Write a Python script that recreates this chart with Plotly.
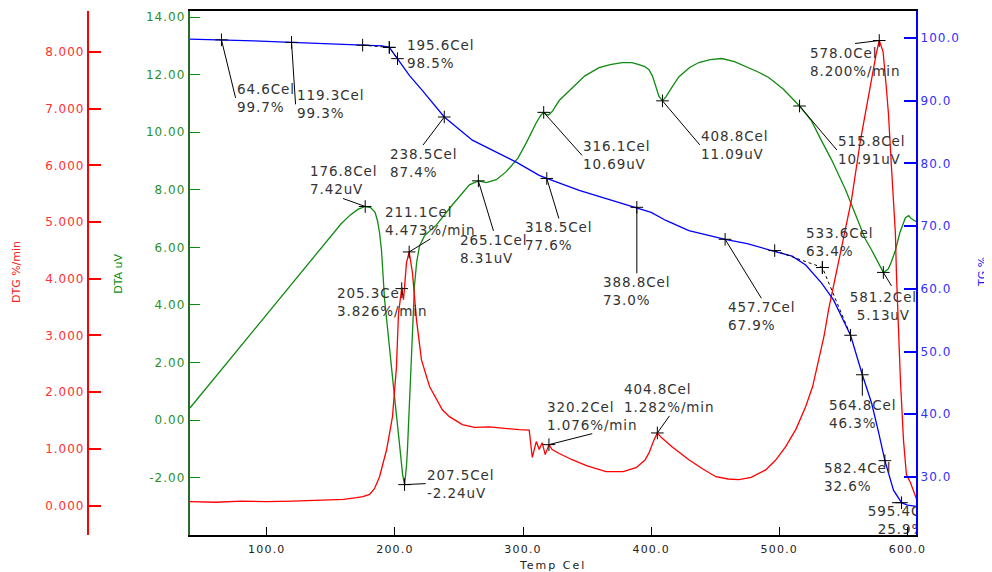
import plotly.graph_objects as go

# ---------------- data ----------------
tg_T = [40, 64.6, 90, 119.3, 140, 160, 175, 190, 195.6, 202,
        211.4, 221.5, 238.5, 260.4, 280, 294.7, 312.6, 318.5, 343.8, 365,
        388.8, 400, 411.5, 429.4, 457.7, 475, 494, 510, 520.6, 533,
        542.4, 555.6, 564.8, 572, 577.4, 582.4, 589.1, 593, 595.4, 600,
        607]
tg_V = [99.8, 99.7, 99.55, 99.3, 99.15, 99.0, 98.9, 98.75, 98.5, 96.7,
        94.0, 91.6, 87.4, 83.7, 81.7, 80.2, 78.1, 77.6, 75.7, 74.4,
        73.0, 72.2, 70.9, 69.3, 67.9, 67.2, 66.1, 65.2, 63.8, 60.9,
        58.2, 52.6, 46.3, 41.8, 37.2, 32.6, 27.9, 26.6, 25.9, 25.5,
        25.3]

dta_T = [40, 60, 80, 100, 120, 140, 150, 158, 165, 171,
         176.8, 181, 184.5, 186.5, 188, 189.5, 191.9, 195.8, 199.7, 203.6,
         206, 207.5, 209, 209.8, 211.4, 212.9, 214, 215.3, 217, 219.2,
         223, 232.4, 244.9, 258.1, 265.1, 271.3, 279.1, 286.9, 296, 302.5,
         310.3, 314, 316.1, 318, 320, 322.7, 328.2, 338.3, 348, 359.3,
         368, 377.3, 385, 390.5, 395, 398.3, 401, 403.7, 406, 408.8,
         411.5, 416, 421.7, 430, 437.2, 446, 455.1, 465, 473.8, 483,
         491.7, 503, 515.8, 525, 533, 540.8, 551.7, 561.8, 567, 572,
         577, 581.2, 585, 587.5, 590.7, 594, 598.4, 601, 603, 607]
dta_V = [0.42, 1.51, 2.6, 3.69, 4.78, 5.87, 6.41, 6.82, 7.12, 7.32,
         7.42, 7.38, 7.22, 6.9, 6.5, 5.9, 4.2, 2.4, 0.8, -0.85,
         -1.9, -2.24, -1.6, -1.0, 0.75, 2.43, 3.9, 4.7, 5.5, 6.05,
         6.4, 6.78, 7.48, 8.17, 8.31, 8.25, 8.35, 8.63, 9.1, 9.63,
         10.33, 10.6, 10.69, 10.62, 10.6, 10.72, 11.1, 11.55, 11.95, 12.24,
         12.35, 12.42, 12.42, 12.35, 12.28, 12.17, 11.95, 11.58, 11.25, 11.09,
         11.23, 11.55, 11.93, 12.25, 12.42, 12.52, 12.56, 12.45, 12.28, 12.1,
         11.9, 11.5, 10.91, 10.4, 9.7, 9.04, 8.0, 6.85, 6.3, 5.91,
         5.5, 5.13, 5.25, 5.5, 5.91, 6.5, 7.03, 7.1, 7.0, 6.89]

dtg_T = [40, 60, 80, 100, 120, 140, 160, 170, 175, 180.2,
         184, 188, 191, 193.5, 196, 198.1, 201.2, 202.8, 205.3, 206.7,
         209, 211.1, 213.7, 216.8, 220.7, 227, 237, 242.5, 252.6, 262,
         273.7, 285, 297, 304.8, 307.2, 310.3, 312.6, 314.9, 317.3, 320.2,
         322.7, 328.2, 338.3, 350, 364.8, 378, 388.2, 395, 398.3, 402,
         404.8, 408, 416.2, 429.4, 440, 450.5, 460, 468.4, 478, 489.4,
         497, 505, 513, 520.6, 526, 530.7, 535, 538.5, 545.5, 556.4,
         563.4, 572, 575.5, 578.0, 581, 583.6, 585.2, 587.5, 589.1, 590.6,
         591.4, 593, 594.5, 596.9, 599.2, 602.3, 604, 606.2, 607]
dtg_V = [0.07, 0.06, 0.08, 0.07, 0.08, 0.09, 0.11, 0.14, 0.16, 0.2,
         0.3, 0.51, 0.75, 0.99, 1.3, 1.57, 2.45, 3.4, 3.826, 3.63,
         4.28, 4.473, 4.1, 3.28, 2.57, 2.1, 1.69, 1.57, 1.43, 1.38,
         1.39, 1.36, 1.34, 1.33, 0.85, 1.13, 0.99, 1.11, 0.9, 1.076,
         0.99, 0.92, 0.81, 0.7, 0.6, 0.6, 0.67, 0.8, 0.93, 1.15,
         1.282, 1.2, 1.04, 0.81, 0.65, 0.51, 0.47, 0.46, 0.5, 0.63,
         0.8, 1.04, 1.35, 1.75, 2.1, 2.57, 3.0, 3.46, 4.22, 5.4,
         6.45, 7.55, 7.95, 8.2, 8.0, 7.35, 6.9, 5.98, 5.3, 4.8,
         4.1, 3.0, 2.22, 1.16, 0.55, 0.41, 0.3, 0.16, 0.12]

# annotated points
tg_ann_T = [64.6, 119.3, 195.6, 238.5, 318.5, 388.8, 457.7, 533.6, 564.8, 582.4, 595.4]
tg_ann_V = [99.7, 99.3, 98.5, 87.4, 77.6, 73.0, 67.9, 63.4, 46.3, 32.6, 25.9]
dta_ann_T = [176.8, 207.5, 265.1, 316.1, 408.8, 515.8, 581.2]
dta_ann_V = [7.42, -2.24, 8.31, 10.69, 11.09, 10.91, 5.13]
dtg_ann_T = [205.3, 211.1, 320.2, 404.8, 578.0]
dtg_ann_V = [3.826, 4.473, 1.076, 1.282, 8.200]

# onset construction (tangent) points on TG
onset1_T = [174.8, 195.6, 202.0]
onset1_V = [98.85, 98.5, 96.7]
onset2_T = [496.4, 533.6, 555.6]
onset2_V = [66.1, 63.4, 52.6]

# ticks
x_ticks = [100, 200, 300, 400, 500, 600]
dta_ticks = [-2, 0, 2, 4, 6, 8, 10, 12, 14]
dtg_ticks = [0, 1, 2, 3, 4, 5, 6, 7, 8]
tg_ticks = [30, 40, 50, 60, 70, 80, 90, 100]

# ---------------- style ----------------
OFF = 8          # browser body margin
SX = 0.992       # horizontal scale seen between page and picture
W, H = 992, 564
FONT = "DejaVu Sans"
RED, GREEN, BLUE = "#ff0000", "#108a10", "#0000ff"
TXT = "#333333"
LFS = 13.5


def fx(px):      # picture px -> figure px
    return px / SX - OFF


def fy(py):
    return py - OFF


# plot area in picture pixels
P_L, P_R, P_T, P_B = 190, 918, 11, 535


def sp(s, ls):
    return f"<span style='letter-spacing:{ls}px'>{s}</span>"


def two(a, b, ls=0.9):
    return sp(a, ls) + "<br>" + sp(b, ls)


# label offsets (pixels): ax, ay, xanchor, yanchor, arrow shown ; None -> clipped text
tg_style = [(14, 58, "left", "middle", True), (4, 62, "left", "middle", True),
            (17, 7, "left", "middle", False), (-21, 28, "center", "top", True),
            (12, 40, "center", "top", True), (0, 66, "center", "top", True),
            (36, 59, "center", "top", True), (-17, -8, "left", "bottom", False),
            (0, 21, "center", "top", True), (-61, 16, "left", "middle", False),
            None]
dta_style = [(-22, -8, "center", "bottom", True), (21, -1, "left", "middle", True),
             (15, 50, "center", "top", True), (38, 43, "left", "middle", True),
             (37, 44, "left", "middle", True), (37, 44, "left", "middle", True),
             None]
dtg_style = [(-65, 13, "left", "middle", False), (21, -13, "center", "bottom", True),
             (43, -11, "center", "bottom", True), (12, -17, "center", "bottom", True),
             (-24, 3, "center", "top", True)]

fig = go.Figure()

fig.add_trace(go.Scatter(x=dta_T, y=dta_V, mode="lines", yaxis="y",
                         line=dict(color=GREEN, width=1.3), hoverinfo="skip"))
fig.add_trace(go.Scatter(x=dtg_T, y=dtg_V, mode="lines", yaxis="y2",
                         line=dict(color=RED, width=1.3), hoverinfo="skip"))
fig.add_trace(go.Scatter(x=tg_T, y=tg_V, mode="lines", yaxis="y3",
                         line=dict(color=BLUE, width=1.3), hoverinfo="skip"))

for oT, oV in ((onset1_T, onset1_V), (onset2_T, onset2_V)):
    fig.add_trace(go.Scatter(x=oT, y=oV, mode="lines+markers", yaxis="y3",
                             line=dict(color="black", width=1, dash="dot"),
                             marker=dict(symbol="cross-thin", size=9,
                                         line=dict(width=1, color="black")),
                             hoverinfo="skip"))

cross = dict(symbol="cross-thin", size=9, line=dict(width=1, color="black"), color="black")
fig.add_trace(go.Scatter(x=tg_ann_T, y=tg_ann_V, mode="markers", yaxis="y3", marker=cross, hoverinfo="skip"))
fig.add_trace(go.Scatter(x=dta_ann_T, y=dta_ann_V, mode="markers", yaxis="y", marker=cross, hoverinfo="skip"))
fig.add_trace(go.Scatter(x=dtg_ann_T, y=dtg_ann_V, mode="markers", yaxis="y2", marker=cross, hoverinfo="skip"))

annos = []


def add_labels(Ts, Vs, styles, yref, fmt_v, leader):
    for (T, V, st) in zip(Ts, Vs, styles):
        text = two(f"{T:.1f}Cel", fmt_v(V))
        if st is None:
            ax, ay, msize = leader[T]
            fig.add_trace(go.Scatter(x=[T], y=[V], mode="markers+text", yaxis=yref,
                                     text=[text], textposition="bottom center",
                                     textfont=dict(family=FONT, size=LFS, color=TXT),
                                     marker=dict(size=msize, opacity=0),
                                     cliponaxis=True, hoverinfo="skip"))
            annos.append(dict(x=T, y=V, xref="x", yref=yref, text="", showarrow=True,
                              arrowhead=0, arrowwidth=1, arrowcolor="black",
                              ax=ax / SX, ay=ay, standoff=0))
            continue
        ax, ay, xa, ya, arrow = st
        annos.append(dict(x=T, y=V, xref="x", yref=yref, text=text, showarrow=True,
                          arrowhead=0, arrowwidth=1,
                          arrowcolor="black" if arrow else "rgba(0,0,0,0)",
                          ax=ax / SX, ay=ay, xanchor=xa, yanchor=ya, align="left",
                          standoff=0, borderpad=0,
                          font=dict(family=FONT, size=LFS, color=TXT)))


add_labels(tg_ann_T, tg_ann_V, tg_style, "y3", lambda v: f"{v:.1f}%", {595.4: (-11, 0, 4)})
add_labels(dta_ann_T, dta_ann_V, dta_style, "y", lambda v: f"{v:.2f}uV", {581.2: (9, 15, 30)})
add_labels(dtg_ann_T, dtg_ann_V, dtg_style, "y2", lambda v: f"{v:.3f}%/min", {})


def xp(px):  # picture px -> paper x
    return fx(px) / W


def yp(py):  # picture px -> paper y (relative to plot area)
    return (P_B - py) / (P_B - P_T)


title_common = dict(xref="paper", yref="paper", showarrow=False,
                    xanchor="center", yanchor="middle")
annos += [
    dict(x=xp(16), y=yp(272), text="DTG %/min", textangle=-90,
         font=dict(family=FONT, size=11, color="#ff2020"), **title_common),
    dict(x=xp(118), y=yp(274), text="DTA uV", textangle=-90,
         font=dict(family=FONT, size=11, color=GREEN), **title_common),
    dict(x=xp(984), y=yp(272), text="TG %", textangle=-90,
         font=dict(family=FONT, size=11, color="#2020ff"), **title_common),
    dict(x=xp(554), y=yp(565), text=sp("Temp Cel", 2),
         font=dict(family=FONT, size=11, color="#222222"), **title_common),
]

fig.update_layout(
    width=W, height=H,
    margin=dict(l=0, r=0, t=fy(P_T), b=H - fy(P_B), pad=0),
    paper_bgcolor="white", plot_bgcolor="white",
    showlegend=False, hovermode=False,
    font=dict(family=FONT),
    annotations=annos,
    xaxis=dict(domain=[xp(P_L), xp(P_R)], range=[39.8, 606.8],
               tickvals=x_ticks, ticktext=[sp(f"{v:.1f}", 1.2) for v in x_ticks],
               ticks="inside", ticklen=8, tickwidth=1, tickcolor="black",
               showline=True, linecolor="black", linewidth=1.5, mirror=True,
               showgrid=False, zeroline=False, ticklabelstandoff=3,
               tickfont=dict(family=FONT, size=11, color="#222222")),
    yaxis=dict(range=[-3.99, 14.21], tickvals=dta_ticks,
               ticktext=[sp(f"{v:.2f}", 1) for v in dta_ticks],
               ticks="inside", ticklen=10, tickwidth=1, tickcolor=GREEN,
               showline=True, linecolor="#2a6a2a", linewidth=2,
               showgrid=False, zeroline=False,
               tickfont=dict(family=FONT, size=12, color="#2a8f2a")),
    yaxis2=dict(overlaying="y", anchor="free", position=xp(88), side="left",
                range=[-0.517, 8.72], tickvals=dtg_ticks,
                ticktext=[sp(f"{v:.3f}", 1) for v in dtg_ticks],
                ticks="inside", ticklen=12, tickwidth=1.5, tickcolor=RED,
                showline=True, linecolor=RED, linewidth=2,
                showgrid=False, zeroline=False,
                tickfont=dict(family=FONT, size=12, color="#ff3030")),
    yaxis3=dict(overlaying="y", anchor="x", side="right",
                range=[20.75, 104.3], tickvals=tg_ticks,
                ticktext=[sp(f"{v:.1f}", 1) for v in tg_ticks],
                ticks="inside", ticklen=12, tickwidth=1.5, tickcolor=BLUE,
                showline=True, linecolor=BLUE, linewidth=2,
                showgrid=False, zeroline=False,
                tickfont=dict(family=FONT, size=12, color="#3030ff")),
)

fig.write_html("out.html")
